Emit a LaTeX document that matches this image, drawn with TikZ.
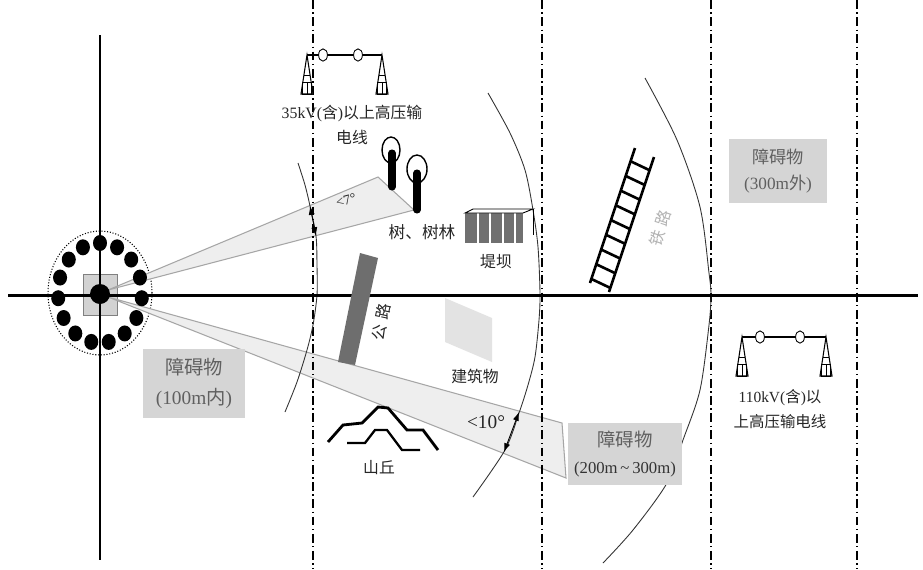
\documentclass[tikz,border=0pt]{standalone}
\usepackage{fontspec}
\setmainfont{Liberation Serif}
\newfontfamily\cjk{Noto Sans CJK SC}
\usetikzlibrary{arrows.meta, calc}

\definecolor{beamgray}{HTML}{EEEEEE}
\definecolor{boxgray}{HTML}{D5D5D5}
\definecolor{roadgray}{HTML}{6E6E6E}
\definecolor{damgray}{HTML}{707070}

% transmission tower, #1 = top of the tower
\newcommand{\pylon}[1]{%
  \begin{scope}[shift={#1}]
    \draw[line width=0.6pt, fill=white] (0,0) -- (-6,39) -- (6,39) -- cycle;
    \draw[line width=0.4pt] (-3,20) -- (3,20);
    \draw[line width=0.4pt] (-4.5,27) rectangle (4.5,39);
    \draw[line width=0.4pt] (0,27) -- (0,39);
  \end{scope}}

\begin{document}
\begin{tikzpicture}[
    x=0.02cm, y=-0.02cm,
    every node/.style={font=\fontsize{9}{11}\selectfont, text=black!85},
    >={Latex[length=5pt,width=3.5pt]},
    axisline/.style={line width=1.7pt},
    zoneline/.style={line width=0.9pt, dash pattern=on 5pt off 2pt on 0.8pt off 2pt},
    rangearc/.style={line width=0.5pt, black!80},
    beam/.style={fill=beamgray, draw=gray!70, line width=0.6pt},
    obstacle/.style={fill=boxgray, align=center, inner sep=0pt, text=gray!75!black},
    hill/.style={line width=1.6pt},
    rail/.style={line width=1.5pt},
    trunk/.style={line width=4pt, line cap=round},
  ]
  \useasboundingbox (0,0) rectangle (923,569);
  \fill[white] (0,0) rectangle (923,569);

  % station area
  \draw[densely dotted, fill=white, line width=0.6pt] (100,293) ellipse [x radius=1.04cm, y radius=1.24cm];
  \draw[gray, fill=gray!35] (83,274) rectangle (117,315);

  % observation sectors
  \draw[beam] (108,290) -- (378,177) -- (414,210) -- cycle;
  \draw[beam] (108,297) -- (562,423) -- (566,478) -- cycle;

  % distance zones
  \foreach \x in {313,542,711,857}
    \draw[zoneline] (\x,0) -- (\x,569);

  \draw[rangearc] plot[smooth] coordinates {(298,163) (305,185) (310,206) (316,236) (317,265)
    (317,295) (313,325) (307,350) (297,382) (285,412)};
  \draw[rangearc] plot[smooth] coordinates {(488,93) (510,133) (525,170) (533,210) (538,247)
    (540,293) (539,320) (535,357) (528,385) (519,413) (505,450) (473,497)};
  \draw[rangearc] plot[smooth] coordinates {(645,78) (677,140) (700,207) (709,273) (711,295)
    (709,325) (700,390) (683,440) (667,483) (633,530) (603,563)};

  \draw[rangearc, black, <->] (316,236) -- (310,206);
  \draw[rangearc, black, <->] (504,452) -- (519,412);

  % axes
  \draw[axisline] (8,295) -- (918,295);
  \draw[axisline] (100,35) -- (100,560);

  % instruments
  \foreach \a in {90,114,...,426}
    \fill ({100+42*cos(\a)},{293-50*sin(\a)}) ellipse [x radius=0.14cm, y radius=0.16cm];
  \fill (100,294) circle [radius=0.2cm];

  \node[obstacle, minimum width=2.04cm, minimum height=1.38cm, font=\fontsize{11}{17}\selectfont]
    (near) at (194,383) {{\cjk 障碍物}\\(100m{\cjk 内})};

  % 35kV line
  \draw[line width=0.6pt] (307,55) -- (382,55);
  \foreach \x in {323,358}
    \draw[line width=0.5pt, fill=white] (\x,55) ellipse [x radius=2.5pt, y radius=3.5pt];
  \pylon{(307,55)}
  \pylon{(382,55)}
  \node[font=\fontsize{9}{14.5}\selectfont, align=center] (hv35) at (352,125)
    {35kV({\cjk 含}){\cjk 以上高压输}\\{\cjk 电线}};

  % trees
  \draw[trunk] (392,153) -- (392,187);
  \draw[line width=0.8pt] (391,150) ellipse [x radius=0.18cm, y radius=0.26cm];
  \draw[trunk] (417,173) -- (417,210);
  \draw[line width=0.8pt] (417,169) ellipse [x radius=0.2cm, y radius=0.28cm];
  \node[font=\fontsize{9.5}{11}\selectfont] (tree) at (422,232) {\cjk 树、树林};
  \node[font=\fontsize{8}{10}\selectfont, rotate=15] (ang7) at (346,200) {<7°};

  % dam
  \fill[damgray] (465,213) rectangle (523,243);
  \foreach \x in {478,490,503,515}
    \draw[white, line width=1pt] (\x,213) -- (\x,243);
  \draw[line width=0.5pt, fill=white] (465,213) -- (473,209) -- (533,209) -- (523,213) -- cycle;
  \draw[line width=0.5pt] (533,209) -- (533,235);
  \node (dam) at (496,262) {\cjk 堤坝};

  % road
  \fill[roadgray] (360,253) -- (378,258) -- (355,365) -- (338,362) -- cycle;
  \node[rotate=78, inner sep=1pt] (road) at (381,322) {{\cjk 公}\hspace{3pt}{\cjk 路}};

  % building
  \fill[gray!22] (445,298) -- (492,318) -- (492,362) -- (445,342) -- cycle;
  \node (bldg) at (475,376) {\cjk 建筑物};

  % hill
  \draw[hill] (328,442) -- (343,425) -- (362,423) -- (378,407) -- (388,408)
    -- (407,430) -- (423,430) -- (438,450);
  \draw[hill, line width=1.3pt] (347,443) -- (365,443) -- (375,430) -- (387,430)
    -- (402,450) -- (420,450);
  \node (hill) at (379,468) {\cjk 山丘};

  \node[font=\fontsize{11}{13}\selectfont] (ang10) at (486,422) {<10°};
  \node[obstacle, minimum width=2.28cm, minimum height=1.24cm, font=\fontsize{10.5}{15}\selectfont]
    (mid) at (625,454) {{\cjk 障碍物}\\{\color{black!80}\fontsize{9.5}{15}\selectfont(200m\,\textasciitilde\,300m)}};

  % railway
  \coordinate (lb) at (590,283);
  \coordinate (lt) at (635,148);
  \coordinate (rb) at (609,292);
  \coordinate (rt) at (654,157);
  \draw[rail] (lb) -- (lt);
  \draw[rail] (rb) -- (rt);
  \foreach \k in {0,...,8}
    \draw[rail] ($(lb)!{0.03+0.109*\k}!(lt)$) -- ($(rb)!{0.03+0.109*\k}!(rt)$);
  \node[rotate=72, inner sep=1pt, text=gray!60] (rail) at (660,228) {{\cjk 铁}\hspace{3pt}{\cjk 路}};

  % far zone
  \node[obstacle, minimum width=1.96cm, minimum height=1.28cm, font=\fontsize{9.8}{15}\selectfont]
    (far) at (778,171) {{\cjk 障碍物}\\(300m{\cjk 外})};

  % 110kV line
  \draw[line width=0.6pt] (742,337) -- (826,337);
  \foreach \x in {760,800}
    \draw[line width=0.5pt, fill=white] (\x,337) ellipse [x radius=2.5pt, y radius=3.5pt];
  \pylon{(742,337)}
  \pylon{(826,337)}
  \node[font=\fontsize{8.8}{14}\selectfont, align=center] (hv110) at (780,409)
    {110kV({\cjk 含}){\cjk 以}\\{\cjk 上高压输电线}};
\end{tikzpicture}
\end{document}
